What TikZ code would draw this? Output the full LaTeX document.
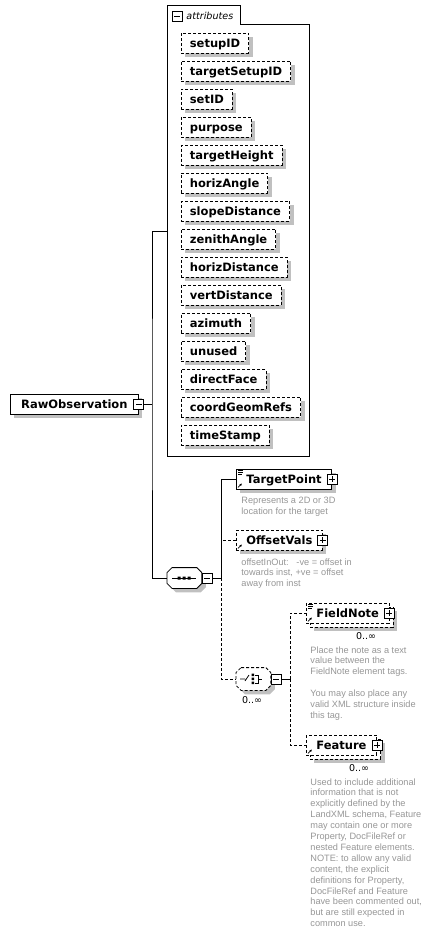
\documentclass[tikz,border=0pt]{standalone}
\usepackage{fontspec}
\setmainfont{DejaVu Sans}
\newfontfamily\notefont{Liberation Sans}
\usetikzlibrary{shadows,arrows.meta}
\definecolor{shadegray}{RGB}{192,192,192}
\definecolor{notegray}{RGB}{150,150,150}
\tikzset{
  brokenline/.style={dash pattern=on 3pt off 2pt},
  boxshadow/.style={drop shadow={shadow xshift=4pt,shadow yshift=-4pt,fill=shadegray,opacity=1}},
  elembase/.style={draw,fill=white,anchor=west,minimum height=20pt,inner xsep=10pt,inner ysep=0pt,
    text height=9pt,text depth=0pt,font=\bfseries\fontsize{11.5}{12}\selectfont},
  elem/.style={elembase,boxshadow},
  optelem/.style={elem,brokenline},
  attr/.style={optelem,inner xsep=8.5pt},
  togglebox/.style={draw,solid,fill=white,minimum size=10pt,inner sep=0pt},
  minusbox/.style={togglebox,path picture={
    \draw[solid] ([xshift=2pt]path picture bounding box.west) -- ([xshift=-2pt]path picture bounding box.east);}},
  plusbox/.style={togglebox,path picture={
    \draw[solid] ([xshift=2pt]path picture bounding box.west) -- ([xshift=-2pt]path picture bounding box.east);
    \draw[solid] ([yshift=-2pt]path picture bounding box.north) -- ([yshift=2pt]path picture bounding box.south);}},
  seqbox/.style={rectangle,anchor=west,minimum width=34pt,minimum height=20pt,inner sep=0pt},
  choicebox/.style={seqbox,minimum height=22pt},
  occurs/.style={inner sep=0pt,font=\fontsize{9.5}{10}\selectfont},
  note/.style={anchor=north west,align=left,inner sep=0pt,text=notegray,font=\notefont\fontsize{9.2}{10.9}\selectfont},
  refarrow/.style={-{Latex[length=2.5pt,width=2.5pt]},solid,line width=0.8pt}
}
\begin{document}
\begin{tikzpicture}[x=1pt,y=-1pt,line width=0.8pt]
\useasboundingbox (0,0) rectangle (440,936);

% attribute group
\draw (167,456) -- (167,5) -- (240,5) -- (240,24) -- (309,24) -- (309,456) -- cycle;
\draw (177,16) node[minusbox](attrtoggle){};
\draw (186,16) node[anchor=west,inner sep=0pt,font=\itshape\fontsize{9.6}{10}\selectfont](attrlabel){attributes};
\draw (181,43) node[attr](setupID){setupID};
\draw (181,71) node[attr](targetSetupID){targetSetupID};
\draw (181,99) node[attr](setID){setID};
\draw (181,127) node[attr](purpose){purpose};
\draw (181,155) node[attr](targetHeight){targetHeight};
\draw (181,183) node[attr](horizAngle){horizAngle};
\draw (181,211) node[attr](slopeDistance){slopeDistance};
\draw (181,239) node[attr](zenithAngle){zenithAngle};
\draw (181,267) node[attr](horizDistance){horizDistance};
\draw (181,295) node[attr](vertDistance){vertDistance};
\draw (181,323) node[attr](azimuth){azimuth};
\draw (181,351) node[attr](unused){unused};
\draw (181,379) node[attr](directFace){directFace};
\draw (181,407) node[attr](coordGeomRefs){coordGeomRefs};
\draw (181,435) node[attr](timeStamp){timeStamp};
\coordinate (attrs) at (167,231);

% root element
\draw (10,404) node[elem,minimum width=128pt](raw){RawObservation};
\draw (raw.east) node[minusbox](rawtoggle){};
\coordinate (fork1) at (152,404);

% sequence
\draw (167,578) node[seqbox](seq){};
\draw[fill=white,boxshadow] ([xshift=5pt]seq.north west) -- ([xshift=-5pt]seq.north east) -- ([yshift=-5pt]seq.north east)
  -- ([yshift=5pt]seq.south east) -- ([xshift=-5pt]seq.south east) -- ([xshift=5pt]seq.south west)
  -- ([yshift=5pt]seq.south west) -- ([yshift=-5pt]seq.north west) -- cycle;
\draw (172,578) -- (196,578);
\fill (177.5,576.5) rectangle ++(3,3) (182.5,576.5) rectangle ++(3,3) (187.5,576.5) rectangle ++(3,3);
\draw (seq.east) node[minusbox,anchor=west](seqtoggle){};
\coordinate (fork2) at (221,578);

\draw (rawtoggle) -- (fork1);
\draw (attrs) -| (fork1) |- (seq.west);

% children of sequence
\draw (236,479) node[elem](tp){TargetPoint};
\draw (tp.east) node[plusbox](tptoggle){};
\draw ([shift={(2,2)}]tp.north west) -- ++(5,0) ([shift={(2,4)}]tp.north west) -- ++(5,0) ([shift={(2,6)}]tp.north west) -- ++(4,0);
\draw[refarrow] ([shift={(2,-2)}]tp.south west) -- ++(4,-4);
\draw (241,497) node[note](tpnote){Represents a 2D or 3D\\location for the target};

\draw (236,540) node[optelem](ov){OffsetVals};
\draw (ov.east) node[plusbox](ovtoggle){};
\draw[refarrow] ([shift={(2,-2)}]ov.south west) -- ++(4,-4);
\draw (241,558) node[note](ovnote){offsetInOut:\ \ \ -ve = offset in\\towards inst, +ve = offset\\away from inst};

% choice
\draw (236,679) node[choicebox](choice){};
\draw[fill=white,brokenline,boxshadow] ([xshift=5pt]choice.north west) -- ([xshift=-5pt]choice.north east) -- ([yshift=-5pt]choice.north east)
  -- ([yshift=5pt]choice.south east) -- ([xshift=-5pt]choice.south east) -- ([xshift=5pt]choice.south west)
  -- ([yshift=5pt]choice.south west) -- ([yshift=-5pt]choice.north west) -- cycle;
\draw (240,679) -- (245,679) (245,681) -- (249,675);
\fill (251.5,673.5) rectangle ++(2.5,2.5) (251.5,677.5) rectangle ++(2.5,2.5) (251.5,681.5) rectangle ++(2.5,2.5);
\draw (255,675) -- (258,675) -- (258,683) -- (255,683) (258,679) -- (262,679);
\draw (choice.east) node[minusbox,anchor=west](choicetoggle){};
\draw (252,700) node[occurs](choiceocc){0..∞};
\coordinate (fork3) at (290,679);

\draw (seqtoggle) -- (fork2);
\draw (fork2) |- (tp.west);
\draw[brokenline] (fork2) |- (ov.west);
\draw[brokenline] (fork2) |- (choice.west);

% children of choice
\draw (310,617) node[optelem](fnback){\phantom{FieldNote}};
\draw (306,613) node[elembase,brokenline](fn){FieldNote};
\draw (fn.east) node[plusbox](fntoggle){};
\draw ([shift={(2,2)}]fn.north west) -- ++(5,0) ([shift={(2,4)}]fn.north west) -- ++(5,0) ([shift={(2,6)}]fn.north west) -- ++(4,0);
\draw[refarrow] ([shift={(2,-2)}]fn.south west) -- ++(4,-4);
\draw (366,636) node[occurs](fnocc){0..∞};
\draw (310,646) node[note](fnnote){Place the note as a text\\value between the\\FieldNote element tags.\\[10.9pt]You may also place any\\valid XML structure inside\\this tag.};

\draw (310,749) node[optelem](featback){\phantom{Feature}};
\draw (306,745) node[elembase,brokenline](feat){Feature};
\draw (feat.east) node[plusbox](feattoggle){};
\draw[refarrow] ([shift={(2,-2)}]feat.south west) -- ++(4,-4);
\draw (359,768) node[occurs](featocc){0..∞};
\draw (310,778) node[note](featnote){Used to include additional\\information that is not\\explicitly defined by the\\LandXML schema, Feature\\may contain one or more\\Property, DocFileRef or\\nested Feature elements.\\NOTE: to allow any valid\\content, the explicit\\definitions for Property,\\DocFileRef and Feature\\have been commented out,\\but are still expected in\\common use.};

\draw (choicetoggle) -- (fork3);
\draw[brokenline] (fork3) |- (fn.west);
\draw[brokenline] (fork3) |- (feat.west);
\end{tikzpicture}
\end{document}
